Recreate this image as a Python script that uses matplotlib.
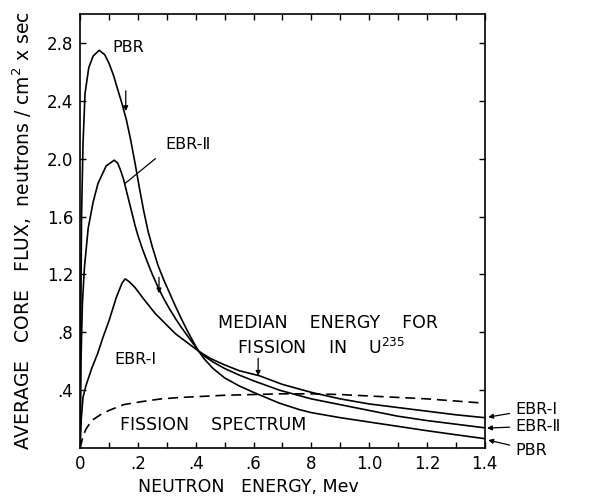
import matplotlib
matplotlib.use('Agg')
import matplotlib.pyplot as plt

# curve readings (energy in Mev, flux)
pbr_x = [0, 0.002, 0.005, 0.01, 0.017, 0.03, 0.045, 0.066, 0.085, 0.10, 0.115,
         0.13, 0.145, 0.16, 0.175, 0.19, 0.205, 0.22, 0.235, 0.25, 0.27, 0.29,
         0.31, 0.33, 0.35, 0.37, 0.39, 0.41, 0.43, 0.46, 0.50, 0.55, 0.6, 0.69,
         0.76, 0.8, 0.9, 1.0, 1.1, 1.2, 1.3, 1.4]
pbr_y = [0, 0.8, 1.6, 2.1, 2.45, 2.63, 2.71, 2.75, 2.72, 2.66, 2.58,
         2.48, 2.38, 2.27, 2.13, 1.97, 1.80, 1.64, 1.50, 1.39, 1.26, 1.16,
         1.07, 0.98, 0.895, 0.815, 0.74, 0.67, 0.615, 0.55, 0.485, 0.43, 0.385, 0.31,
         0.265, 0.245, 0.21, 0.18, 0.15, 0.12, 0.092, 0.065]

ebr2_x = [0, 0.003, 0.008, 0.015, 0.028, 0.045, 0.062, 0.09, 0.118, 0.13, 0.14,
          0.15, 0.16, 0.17, 0.18, 0.19, 0.20, 0.215, 0.23, 0.25, 0.27, 0.29, 0.31,
          0.33, 0.35, 0.37, 0.39, 0.41, 0.43, 0.46, 0.5, 0.55, 0.6, 0.69, 0.8, 0.9,
          1.0, 1.1, 1.2, 1.3, 1.4]
ebr2_y = [0, 0.6, 1.0, 1.25, 1.52, 1.70, 1.83, 1.95, 1.99, 1.97, 1.92,
          1.86, 1.78, 1.70, 1.62, 1.54, 1.47, 1.38, 1.30, 1.20, 1.11, 1.03, 0.96,
          0.895, 0.835, 0.78, 0.725, 0.67, 0.635, 0.595, 0.55, 0.505, 0.465, 0.40, 0.34, 0.30,
          0.26, 0.22, 0.19, 0.165, 0.14]

ebr1_x = [0, 0.004, 0.01, 0.02, 0.04, 0.06, 0.08, 0.10, 0.125, 0.145, 0.156, 0.17,
          0.19, 0.22, 0.26, 0.30, 0.33, 0.37, 0.41, 0.45, 0.5, 0.55, 0.62, 0.7,
          0.8, 0.9, 1.0, 1.1, 1.2, 1.3, 1.4]
ebr1_y = [0, 0.2, 0.35, 0.43, 0.55, 0.65, 0.77, 0.88, 1.04, 1.14, 1.17, 1.15,
          1.11, 1.03, 0.93, 0.85, 0.79, 0.73, 0.67, 0.62, 0.575, 0.535, 0.50, 0.44,
          0.385, 0.34, 0.305, 0.28, 0.255, 0.23, 0.21]

fis_x = [0, 0.01, 0.02, 0.04, 0.07, 0.10, 0.15, 0.21, 0.28, 0.35, 0.5, 0.6, 0.7,
         0.8, 0.9, 1.0, 1.1, 1.2, 1.3, 1.4]
fis_y = [0, 0.08, 0.13, 0.19, 0.23, 0.26, 0.30, 0.32, 0.34, 0.35, 0.365, 0.37, 0.375,
         0.375, 0.37, 0.36, 0.35, 0.34, 0.325, 0.31]

xticks = [0, 0.2, 0.4, 0.6, 0.8, 1.0, 1.2, 1.4]
xticklabels = ["0", ".2", ".4", ".6", "8", "1.0", "1.2", "1.4"]
yticks = [0.4, 0.8, 1.2, 1.6, 2.0, 2.4, 2.8]
yticklabels = [".4", ".8", "1.2", "1.6", "2.0", "2.4", "2.8"]

FS = 11.5
plt.rcParams['font.family'] = ['DejaVu Sans']

fig = plt.figure(figsize=(5.89, 5.04), dpi=100)
ax = fig.add_axes([0.136, 0.111, 0.687, 0.861])

lw = 1.2
ax.plot(pbr_x, pbr_y, color='k', lw=lw)
ax.plot(ebr2_x, ebr2_y, color='k', lw=lw)
ax.plot(ebr1_x, ebr1_y, color='k', lw=lw)
ax.plot(fis_x, fis_y, color='k', lw=lw, linestyle=(0, (6, 3.5)))

ax.set_xlim(0, 1.4)
ax.set_ylim(0, 3.0)

ax.set_xticks(xticks)
ax.set_xticklabels(xticklabels, fontsize=12)
ax.set_xticks([0.1, 0.3, 0.5, 0.7, 0.9, 1.1, 1.3], minor=True)
ax.set_yticks(yticks)
ax.set_yticklabels(yticklabels, fontsize=12)
ax.tick_params(which='both', direction='in', top=True, right=True,
               length=4.5, width=1.0)
ax.tick_params(axis='x', pad=5)
ax.tick_params(axis='y', pad=5)
for s in ax.spines.values():
    s.set_linewidth(1.2)

ax.set_xlabel("NEUTRON   ENERGY, Mev", fontsize=12.5)
ax.xaxis.set_label_coords(0.415, -0.068)
ax.set_ylabel("AVERAGE   CORE   FLUX,  neutrons / cm$^2$ x sec", fontsize=13.5,
              labelpad=9)

# curve labels
ax.text(0.166, 2.77, "PBR", fontsize=FS, ha='center', va='center')
ax.text(0.374, 2.10, "EBR-Ⅱ", fontsize=FS, ha='center', va='center')
ax.plot([0.26, 0.156], [2.0, 1.83], color='k', lw=0.9)
ax.text(0.19, 0.61, "EBR-Ⅰ", fontsize=FS, ha='center', va='center')
ax.text(0.858, 0.862, "MEDIAN    ENERGY    FOR", fontsize=12.5, ha='center', va='center')
ax.text(0.835, 0.695, "FISSION    IN    U$^{235}$", fontsize=12.5, ha='center', va='center')
ax.text(0.46, 0.16, "FISSION    SPECTRUM", fontsize=12.5, ha='center', va='center')

# median energy markers
arw = dict(arrowstyle='-|>', color='k', lw=0.9, mutation_scale=7, shrinkA=0, shrinkB=0)
ax.annotate("", xy=(0.158, 2.33), xytext=(0.158, 2.47), arrowprops=arw)
ax.annotate("", xy=(0.273, 1.07), xytext=(0.273, 1.18), arrowprops=arw)
ax.annotate("", xy=(0.616, 0.50), xytext=(0.616, 0.62), arrowprops=arw)

# right hand labels
ax.annotate("EBR-Ⅰ", xy=(1.412, 0.214), xytext=(1.505, 0.27), fontsize=FS,
            va='center', ha='left', annotation_clip=False,
            arrowprops=dict(arw, shrinkA=2))
ax.annotate("EBR-Ⅱ", xy=(1.408, 0.138), xytext=(1.505, 0.152), fontsize=FS,
            va='center', ha='left', annotation_clip=False,
            arrowprops=dict(arw, shrinkA=2))
ax.annotate("PBR", xy=(1.412, 0.055), xytext=(1.505, -0.014), fontsize=FS,
            va='center', ha='left', annotation_clip=False,
            arrowprops=dict(arw, shrinkA=2))

plt.savefig('out.png', dpi=100)
